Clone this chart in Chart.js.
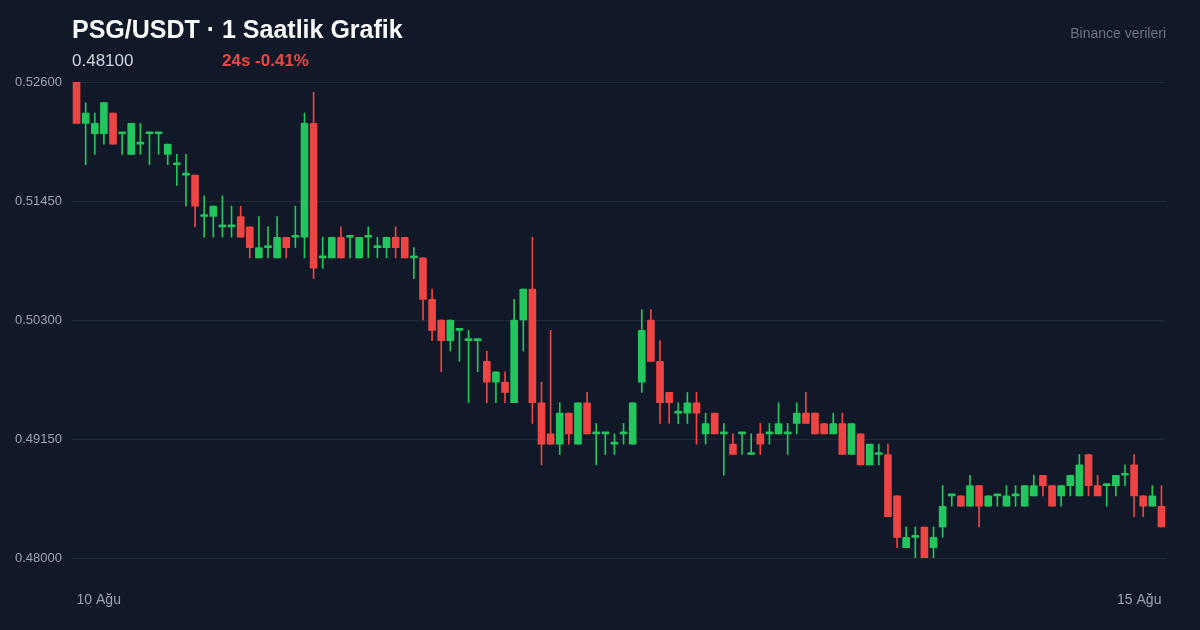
<!DOCTYPE html>
<html><head><meta charset="utf-8">
<script src="https://cdn.jsdelivr.net/npm/chart.js@4/dist/chart.umd.min.js"></script>
<style>
html,body{margin:0;padding:0;background:#111827;width:1200px;height:630px;overflow:hidden;font-family:"Liberation Sans",Arial,sans-serif}
#wrap{position:absolute;left:0;top:0;width:1200px;height:630px}
.t{position:absolute;white-space:nowrap}
</style></head><body>
<div id="wrap"><canvas id="c" width="1200" height="630"></canvas></div>
<div class="t" style="left:72px;top:15px;font-size:25px;font-weight:700;color:#f9fafb">PSG/USDT · 1 Saatlik Grafik</div>
<div class="t" style="left:72px;top:51px;font-size:17px;color:#d1d5db">0.48100</div>
<div class="t" style="left:222px;top:51px;font-size:17px;font-weight:700;color:#ef4444">24s -0.41%</div>
<div class="t" style="right:34px;top:25px;font-size:14px;color:#6b7280">Binance verileri</div>
<script>
const xTickLabels = ['10 Ağu', '15 Ağu'];
const yTicks = [0.48, 0.4915, 0.503, 0.5145, 0.526];
const openP = [.526,.522,.521,.521,.523,.521,.519,.520,.521,.521,
.519,.518,.517,.517,.513,.513,.512,.512,.513,.512,
.509,.510,.509,.511,.511,.511,.522,.509,.509,.511,
.511,.509,.511,.510,.510,.511,.511,.509,.509,.505,
.503,.501,.502,.501,.501,.499,.497,.497,.495,.503,
.506,.495,.492,.491,.494,.491,.495,.492,.492,.491,
.492,.491,.497,.503,.499,.496,.494,.494,.495,.492,
.494,.492,.491,.492,.490,.492,.492,.492,.492,.493,
.494,.494,.493,.492,.493,.490,.492,.489,.490,.490,
.486,.481,.482,.483,.481,.483,.486,.486,.485,.487,
.485,.486,.485,.486,.485,.486,.488,.487,.486,.487,
.486,.490,.487,.487,.487,.488,.489,.486,.485,.485];
const highP = [.526,.524,.523,.524,.523,.521,.522,.522,.521,.521,
.520,.519,.519,.517,.515,.514,.515,.514,.514,.512,
.513,.512,.513,.511,.514,.523,.525,.511,.511,.512,
.511,.511,.512,.511,.511,.512,.511,.510,.509,.506,
.503,.503,.502,.502,.501,.500,.498,.498,.505,.506,
.511,.497,.502,.495,.494,.495,.496,.493,.492,.492,
.493,.495,.504,.504,.501,.496,.495,.496,.496,.494,
.494,.493,.492,.492,.492,.493,.493,.495,.493,.495,
.496,.494,.493,.494,.494,.493,.492,.491,.491,.491,
.486,.483,.483,.483,.483,.487,.486,.486,.488,.487,
.486,.486,.487,.487,.487,.488,.488,.487,.487,.488,
.490,.490,.488,.487,.488,.489,.490,.486,.487,.487];
const lowP = [.522,.518,.519,.520,.520,.519,.519,.519,.518,.519,
.518,.516,.514,.512,.511,.511,.511,.511,.511,.509,
.509,.509,.509,.509,.510,.509,.507,.508,.509,.509,
.509,.509,.509,.509,.509,.509,.509,.507,.503,.501,
.498,.500,.499,.495,.498,.495,.495,.495,.495,.500,
.493,.489,.491,.490,.491,.491,.492,.489,.490,.490,
.491,.491,.496,.499,.493,.493,.493,.493,.491,.491,
.492,.488,.490,.490,.490,.490,.491,.492,.490,.492,
.493,.492,.492,.492,.490,.490,.489,.489,.489,.484,
.481,.481,.480,.480,.480,.482,.485,.485,.485,.483,
.485,.485,.485,.485,.485,.486,.486,.485,.485,.486,
.486,.486,.486,.485,.486,.487,.484,.484,.485,.483];
const closeP = [.522,.523,.522,.524,.520,.521,.522,.520,.521,.521,
.520,.518,.517,.514,.513,.514,.512,.512,.511,.510,
.510,.510,.511,.510,.511,.522,.508,.509,.511,.509,
.511,.511,.511,.510,.511,.510,.509,.509,.505,.502,
.501,.503,.502,.501,.501,.497,.498,.496,.503,.506,
.495,.491,.491,.494,.492,.495,.492,.492,.492,.491,
.492,.495,.502,.499,.495,.495,.494,.495,.494,.493,
.492,.492,.490,.492,.490,.491,.492,.493,.492,.494,
.493,.492,.492,.493,.490,.493,.489,.491,.490,.484,
.482,.482,.482,.480,.482,.485,.486,.485,.487,.485,
.486,.486,.486,.486,.487,.487,.487,.485,.487,.488,
.489,.487,.486,.487,.488,.488,.486,.485,.486,.483];

const UP = '#22c55e', DN = '#ef4444';
const labels = openP.map((_, i) => i);
const cols = openP.map((o, i) => closeP[i] >= o ? UP : DN);
const n = labels.length;
const FONT = 'Liberation Sans';

new Chart(document.getElementById('c'), {
  type: 'bar',
  data: {
    labels,
    datasets: [
      { data: labels.map(i => [lowP[i], highP[i]]), backgroundColor: cols, barThickness: 1, grouped: false, order: 2 },
      { data: labels.map(i => [openP[i], closeP[i]]), backgroundColor: cols, barThickness: 7, minBarLength: 2, grouped: false, borderRadius: 1, order: 1 }
    ]
  },
  options: {
    responsive: false, animation: false, devicePixelRatio: 1,
    layout: { padding: { left: 15, right: 34, top: 82, bottom: 0 } },
    plugins: { legend: { display: false }, tooltip: { enabled: false } },
    scales: {
      x: {
        grid: { display: false, drawTicks: false }, border: { display: false },
        ticks: { color: '#9ca3af', font: { size: 14, family: FONT }, autoSkip: false, maxRotation: 0, padding: 34, align: 'inner',
          callback: (v, i) => i === 0 ? xTickLabels[0] : (i === n - 1 ? xTickLabels[1] : '') },
        afterFit: s => { s.height = 72; }
      },
      y: {
        min: 0.48, max: 0.526,
        afterBuildTicks: s => { s.ticks = yTicks.map(v => ({ value: v })); },
        afterFit: s => { s.width = 57; },
        grid: { color: '#1f2937', drawTicks: false, lineWidth: 1 }, border: { display: false },
        ticks: { color: '#9ca3af', font: { size: 13, family: FONT }, padding: 10, crossAlign: 'far', callback: v => Number(v).toFixed(5) }
      }
    }
  }
});
</script></body></html>
